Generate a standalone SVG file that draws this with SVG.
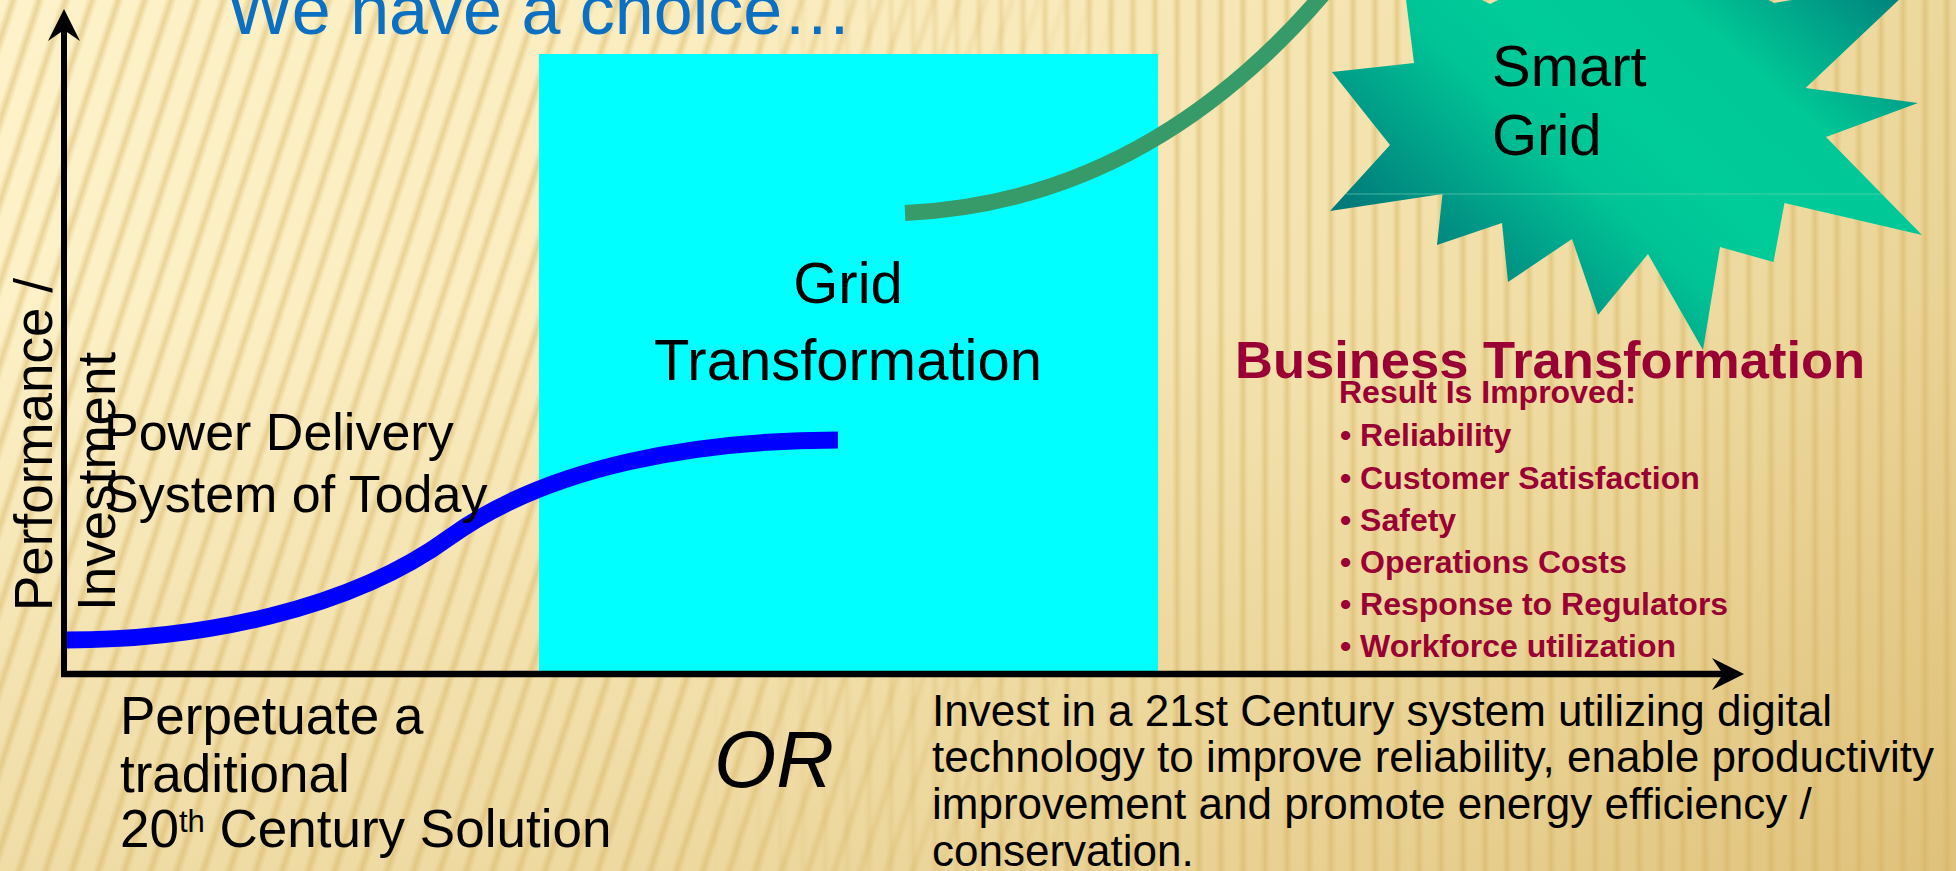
<svg xmlns="http://www.w3.org/2000/svg" width="1956" height="871" viewBox="0 0 1956 871">
<defs>
<style>
.t{font-family:"Liberation Sans",Arial,Helvetica,sans-serif;fill:#000}
.lbl{font-size:52px}
.lbl2{font-size:53px}
.big{font-size:58px}
.inv{font-size:44px}
.red{fill:#990033;font-weight:bold}
.bul{font-size:32px}
.axis{stroke:#000;fill:none}
.curve{fill:none;stroke-linecap:butt}
</style>
<linearGradient id="bg" gradientUnits="userSpaceOnUse" x1="0" y1="0" x2="1956" y2="871">
<stop offset="0" stop-color="#FDF2C9"/>
<stop offset="0.45" stop-color="#F9EABB"/>
<stop offset="0.8" stop-color="#EEDAA0"/>
<stop offset="1" stop-color="#E4C986"/>
</linearGradient>
<linearGradient id="bgv" x1="0" y1="0" x2="0" y2="1">
<stop offset="0.35" stop-color="#D4B060" stop-opacity="0"/>
<stop offset="1" stop-color="#D4B060" stop-opacity="0.3"/>
</linearGradient>
<linearGradient id="sg" x1="0" y1="0" x2="1" y2="0">
<stop offset="0" stop-color="#D2AE5A" stop-opacity="0"/>
<stop offset="0.28" stop-color="#D2AE5A" stop-opacity="0"/>
<stop offset="0.5" stop-color="#D2AE5A" stop-opacity="0.44"/>
<stop offset="0.72" stop-color="#D2AE5A" stop-opacity="0"/>
<stop offset="1" stop-color="#D2AE5A" stop-opacity="0"/>
</linearGradient>
<pattern id="pA" width="25" height="100" patternUnits="userSpaceOnUse" patternTransform="rotate(18)">
<rect width="25" height="100" fill="url(#sg)"/>
</pattern>
<pattern id="pB" width="22" height="100" patternUnits="userSpaceOnUse">
<rect width="22" height="100" fill="url(#sg)"/>
</pattern>
<linearGradient id="mg1" gradientUnits="userSpaceOnUse" x1="700" y1="0" x2="1150" y2="0">
<stop offset="0" stop-color="#fff"/><stop offset="1" stop-color="#000"/>
</linearGradient>
<linearGradient id="mg2" gradientUnits="userSpaceOnUse" x1="700" y1="0" x2="1150" y2="0">
<stop offset="0" stop-color="#000"/><stop offset="1" stop-color="#fff"/>
</linearGradient>
<mask id="mA"><rect width="1956" height="871" fill="url(#mg1)"/></mask>
<mask id="mB"><rect width="1956" height="871" fill="url(#mg2)"/></mask>
<linearGradient id="starg" gradientUnits="userSpaceOnUse" x1="1450" y1="300" x2="1800" y2="-85">
<stop offset="0" stop-color="#007A7A"/>
<stop offset="0.35" stop-color="#00C496"/>
<stop offset="0.5" stop-color="#00CC99"/>
<stop offset="0.72" stop-color="#00C896"/>
<stop offset="1" stop-color="#00857E"/>
</linearGradient>
<marker id="arr" markerUnits="userSpaceOnUse" viewBox="-12 -17 34 34" markerWidth="34" markerHeight="34" refX="0" refY="0" orient="auto">
<path d="M-11,-16 L21,0 L-11,16 L0,0 Z" fill="#000"/>
</marker>
</defs>

<g id="background">
<rect width="1956" height="871" fill="url(#bg)"/>
<rect width="1956" height="871" fill="url(#bgv)"/>
<rect width="1956" height="871" fill="url(#pA)" mask="url(#mA)"/>
<rect width="1956" height="871" fill="url(#pB)" mask="url(#mB)"/>
</g>

<g id="title">
<text class="t" x="227" y="34" font-size="70" style="fill:#0B6FC2">We have a choice…</text>
</g>

<g id="grid-transformation">
<rect x="539" y="54" width="619" height="617" fill="#00FFFF"/>
<text class="t big" x="848" y="303" text-anchor="middle">Grid</text>
<text class="t big" x="848" y="380" text-anchor="middle">Transformation</text>
</g>

<g id="smart-grid">
<polygon fill="url(#starg)" points="1401,-40 1490,4 1640,-70 1774,3 1922,-22 1805.6,88 1918,103 1826,137 1922,235 1784.5,203 1773.5,262 1720,247 1703,350 1648,254 1598,315 1572,239 1508,282 1502,223 1437,245 1442.5,194 1330,211 1390,145 1332,72 1414,63"/>
<line x1="1346" y1="194" x2="1882" y2="194" stroke="#6FD8B8" stroke-width="1" stroke-opacity="0.6"/>
<text class="t big" x="1492" y="86">Smart</text>
<text class="t big" x="1492" y="155">Grid</text>
</g>

<g id="connectors">
<path class="curve" d="M66,640 C200,640 350,610 450,537 C550,465 700,440 838,440" stroke="#0000FF" stroke-width="17"/>
<path class="curve" d="M905,213 C1080,205 1220,120 1335,-20" stroke="#379A69" stroke-width="16"/>
<line class="axis" x1="64" y1="677" x2="64" y2="30" stroke-width="6" marker-end="url(#arr)"/>
<line class="axis" x1="61" y1="674" x2="1723" y2="674" stroke-width="6.5" marker-end="url(#arr)"/>
</g>

<g id="axis-label">
<text class="t" font-size="53" transform="translate(52,611) rotate(-90)">Performance /</text>
<text class="t" font-size="53" transform="translate(115,611) rotate(-90)">Investment</text>
</g>

<g id="power-delivery-today">
<text class="t lbl" x="104" y="450">Power Delivery</text>
<text class="t lbl" x="104" y="512">System of Today</text>
</g>

<g id="perpetuate">
<text class="t lbl2" x="120" y="734">Perpetuate a</text>
<text class="t lbl2" x="120" y="792">traditional</text>
<text class="t lbl2" x="120" y="847">20<tspan font-size="31" dy="-15">th</tspan><tspan dy="15"> Century Solution</tspan></text>
</g>

<g id="or">
<text class="t" x="714" y="787" font-size="80" font-style="italic">OR</text>
</g>

<g id="invest">
<text class="t inv" x="932" y="726">Invest in a 21st Century system utilizing digital</text>
<text class="t inv" x="932" y="772">technology to improve reliability, enable productivity</text>
<text class="t inv" x="932" y="819">improvement and promote energy efficiency /</text>
<text class="t inv" x="932" y="866">conservation.</text>
</g>

<g id="business-transformation">
<text class="t red" x="1235" y="378" font-size="52.5">Business Transformation</text>
<text class="t red bul" x="1339" y="403">Result Is Improved:</text>
<text class="t red bul" x="1340" y="446">• Reliability</text>
<text class="t red bul" x="1340" y="489">• Customer Satisfaction</text>
<text class="t red bul" x="1340" y="531">• Safety</text>
<text class="t red bul" x="1340" y="573">• Operations Costs</text>
<text class="t red bul" x="1340" y="615">• Response to Regulators</text>
<text class="t red bul" x="1340" y="657">• Workforce utilization</text>
</g>
</svg>
